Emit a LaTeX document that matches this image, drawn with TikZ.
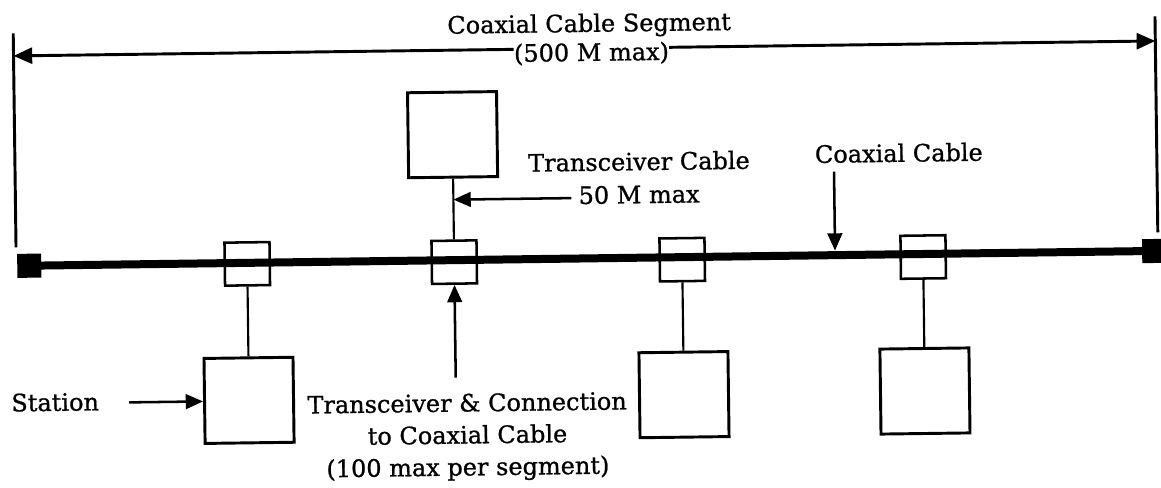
\documentclass[tikz,border=0pt]{standalone}
\usepackage{fontspec}
\setmainfont{DejaVu Serif}
\newfontfamily\lblfont{DejaVu Serif}[FakeBold=0.9]
\usetikzlibrary{arrows.meta}
\begin{document}
\begin{tikzpicture}[x=0.75pt,y=-0.75pt,
  lbl/.style={font=\lblfont\fontsize{18}{22}\selectfont, inner sep=0pt},
  stbox/.style={draw, line width=2.2pt, minimum width=66.75pt, minimum height=63.75pt, inner sep=0pt},
  trbox/.style={draw, line width=1.9pt, minimum width=33.75pt, minimum height=32.25pt, inner sep=0pt},
  endblk/.style={fill=black, minimum size=18pt, inner sep=0pt},
  wire/.style={line width=1.6pt},
  cable/.style={line width=6pt},
  dimline/.style={line width=2.2pt},
  dimptr/.style={line width=2.2pt, -{Triangle[length=14pt,width=12pt]}},
  ptr/.style={line width=1.9pt, -{Triangle[length=13pt,width=11pt]}},
]
\useasboundingbox (0,0) rectangle (1161,487);
\begin{scope}[rotate around={0.75:(580,243)}, transform shape]
% overall segment dimension
\coordinate (vLt) at (16,26); \coordinate (vLb) at (16,240);
\coordinate (vRt) at (1158,24); \coordinate (vRb) at (1158,240);
\draw[dimline] (vLt) -- (vLb);
\draw[dimline] (vRt) -- (vRb);
\node[lbl, anchor=base] (seg1) at (592,32) {Coaxial Cable Segment};
\node[lbl, anchor=base] (seg2) at (594,61) {(500 M max)};
\coordinate (dL) at (16,48.5); \coordinate (dR) at (1158,48.5);
\draw[dimptr] (seg2.west |- dL) -- (dL);
\draw[dimptr] (seg2.east |- dR) -- (dR);
% coaxial cable and transceivers
\node[endblk] (eL) at (29,258.5) {};
\node[endblk] (eR) at (1154,258.5) {};
\node[trbox] (t1) at (247,259.5) {};
\node[trbox] (t2) at (454,260.5) {};
\node[trbox] (t3) at (682,261) {};
\node[trbox] (t4) at (923,261.5) {};
\draw[cable] (eL.center) -- (eR.center);
% stations
\node[stbox] (s1) at (247,396) {};
\node[stbox] (s2) at (454,133) {};
\node[stbox] (s3) at (682,396) {};
\node[stbox] (s4) at (923,395.5) {};
\draw[wire] (t1.south) -- (s1.north);
\draw[wire] (t2.north) -- (s2.south);
\draw[wire] (t3.south) -- (s3.north);
\draw[wire] (t4.south) -- (s4.north);
% labels
\node[lbl, anchor=base] (tc1) at (640,171) {Transceiver Cable};
\node[lbl, anchor=base west] (tc2) at (579,204) {50 M max};
\coordinate (tcA) at (572,198);
\draw[ptr] (tcA) -- (tcA -| t2.north);
\node[lbl, anchor=base] (cc) at (900,166) {Coaxial Cable};
\coordinate (ccA) at (835,175);
\coordinate (cabTop) at (835,254);
\draw[ptr] (ccA) -- (cabTop);
\node[lbl, anchor=base west] (st) at (9,404) {Station};
\coordinate (stA) at (127,396.5);
\draw[ptr] (stA) -- (stA -| s1.west);
\node[lbl, anchor=base] (x1) at (465,410) {Transceiver \& Connection};
\node[lbl, anchor=base] (x2) at (465,442) {to Coaxial Cable};
\node[lbl, anchor=base] (x3) at (465,474) {(100 max per segment)};
\coordinate (xA) at (454,376);
\draw[ptr] (xA) -- (t2.south);
\end{scope}
\end{tikzpicture}
\end{document}
